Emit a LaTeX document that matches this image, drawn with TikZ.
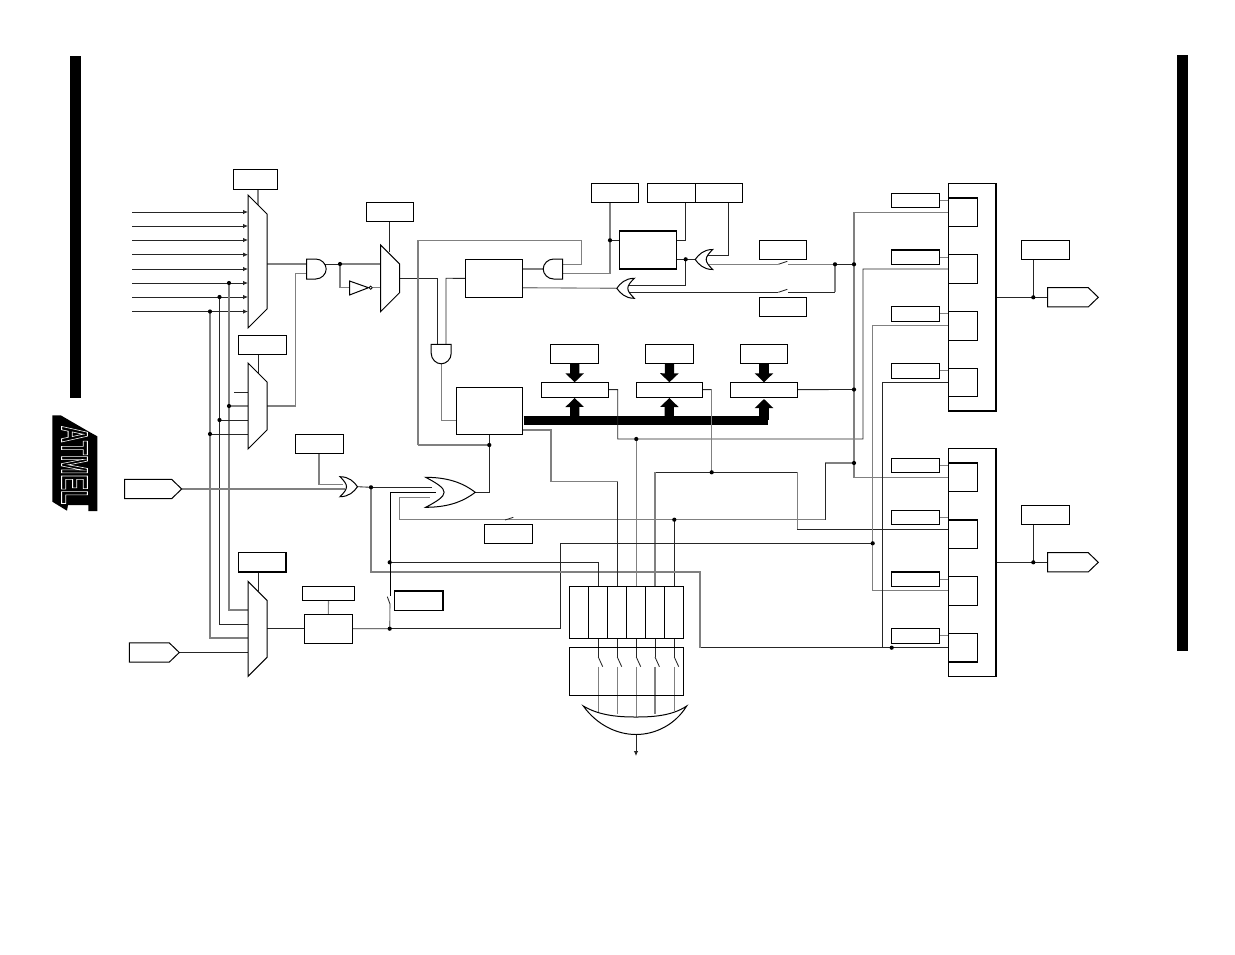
\documentclass[tikz,border=0pt]{standalone}
\usepackage{fontspec}
\usepackage{graphicx}
\usetikzlibrary{arrows.meta,backgrounds}
\newfontfamily\logofont{Liberation Sans}
\newcommand\bbox[6][]{\node[boxnode,#1,minimum width={(#5-#3)*1pt},minimum height={(#6-#4)*1pt}] (#2) at ({(#3+#5)/2},{(#4+#6)/2}) {};}
\tikzset{
  boxnode/.style={draw=black,fill=white,rectangle,inner sep=0pt,outer sep=0pt,line width=1pt},
  heavy/.style={line width=1.4pt},
  jdot/.style={circle,fill=black,draw=none,inner sep=0pt,minimum size=4.2pt},
  wire/.style={draw=black!85,line width=0.85pt},
  gwire/.style={draw=black!50,line width=1.1pt},
  gate/.style={draw=black,fill=white,line width=1pt,line join=miter},
  inarrow/.style={wire,-{Latex[length=5pt,width=4.5pt]}},
  fatdown/.style={draw=black,line width=9.3pt,-{Triangle[length=9pt,width=18pt]}},
  pics/mux/.style={code={
    \draw[gate] (0,-#1) -- (19,-#1+19) -- (19,#1-19) -- (0,#1) -- cycle;
    \coordinate (-out) at (19,0);}},
  pics/andg/.style={code={
    \draw[gate] (0,-10) -- (9,-10) .. controls (15,-10) and (19.5,-5) .. (19.5,0) .. controls (19.5,5) and (15,10) .. (9,10) -- (0,10) -- cycle;
    \coordinate (-out) at (19.5,0);}},
  pics/org/.style={code={
    \draw[gate] (0,-10) .. controls (9,-10) and (14,-5) .. (17.5,0) .. controls (14,5) and (9,10) .. (0,10) .. controls (4,6) and (6.5,3) .. (6.5,0) .. controls (6.5,-3) and (4,-6) .. (0,-10) -- cycle;
    \coordinate (-out) at (17.5,0);}},
  pics/pent/.style={code={
    \draw[gate] (0,-9.6) -- (#1-10,-9.6) -- (#1,0) -- (#1-10,9.6) -- (0,9.6) -- cycle;
    \coordinate (-tip) at (#1,0);}},
}
\begin{document}
\begin{tikzpicture}[x=1pt,y=-1pt]
\useasboundingbox (0,0) rectangle (1235,954);
% page bars
\fill[black] (70,56) rectangle (81,398);
\fill[black] (1177,55) rectangle (1188,651);
% logo
\fill[black] (52.3,415.3) -- (60.7,415.3) -- (89,431.7) -- (97.3,436.3) -- (97.3,511) -- (88.3,511) -- (88.3,505) -- (68,505) -- (67,510.7) -- (52.3,501.7) -- cycle;
\node[rotate=-90,inner sep=0pt,text=black,font=\logofont\bfseries\fontsize{37.5}{37.5}\selectfont] (logo) at (74.5,465) {\special{pdf:code q 2 Tr 0.9 w 1 1 1 RG 0 0 0 rg}\scalebox{0.62}[1]{ATMEL}\special{pdf:code Q}};

% boxes
\bbox{bA}{233}{169}{277}{189}
\bbox{bB}{366}{202}{413.7}{221.7}
\bbox{bC}{238}{335}{286}{354}
\bbox{bD}{295}{434.3}{343}{453.7}
\bbox[heavy]{bE}{238.3}{552.7}{286}{572}
\bbox{bF}{302.3}{586.3}{354.7}{600.7}
\bbox[heavy]{bG}{304.3}{614.3}{352.3}{643.3}
\bbox[line width=1.6pt]{bH}{394.3}{590.7}{442.7}{610.3}
\bbox{bI}{465}{259}{522.7}{297.7}
\bbox{bJ}{456}{387}{522.7}{434.7}
\bbox{bK}{591}{183.3}{638.7}{202.7}
\bbox{bL}{647.3}{183.3}{695}{202.7}
\bbox{bM}{695}{183.3}{742.7}{202.7}
\bbox[heavy]{bN}{619.3}{231}{676.7}{269}
\bbox{bO}{759.3}{240.3}{806.7}{259.7}
\bbox{bP}{759.3}{297.3}{806.7}{316.7}
\bbox{bQ}{484.3}{524.3}{532.7}{543.7}
\bbox{tA}{550.7}{344.3}{598.7}{363.7}
\bbox{tB}{645.3}{344.3}{693.7}{363.7}
\bbox{tC}{740.3}{344.3}{787.7}{363.7}
\bbox{rA}{541.3}{382.3}{608}{397}
\bbox{rB}{636}{382.3}{702.7}{397}
\bbox{rC}{730.7}{382.3}{797.3}{397}
\bbox{sA}{569.7}{586}{588.7}{638.3}
\bbox{sB}{588.7}{586}{607.7}{638.3}
\bbox{sC}{607.7}{586}{626.7}{638.3}
\bbox{sD}{626.7}{586}{645.7}{638.3}
\bbox{sE}{645.7}{586}{664.7}{638.3}
\bbox{sF}{664.7}{586}{683.7}{638.3}
\bbox[heavy,fill=none]{sG}{569.7}{647.7}{683.7}{695.3}
% right blocks
\bbox[heavy]{blkA}{948.7}{183.7}{996}{411}
\bbox[heavy]{blkB}{948.7}{448.7}{996}{676.3}
\bbox[heavy]{iA}{948.7}{198}{977.3}{226.7}
\bbox[heavy]{iB}{948.7}{254.7}{977.3}{283.7}
\bbox[heavy]{iC}{948.7}{311.3}{977.3}{340.3}
\bbox[heavy]{iD}{948.7}{368.3}{977.3}{396.7}
\bbox[heavy]{iE}{948.7}{463}{977.3}{491.7}
\bbox[heavy]{iF}{948.7}{520}{977.3}{548.3}
\bbox[heavy]{iG}{948.7}{576.7}{977.3}{605.3}
\bbox[heavy]{iH}{948.7}{633.3}{977.3}{662}
\bbox{lA}{891.3}{193.3}{939.3}{207.7}
\bbox[heavy]{lB}{891.3}{250}{939.3}{264.7}
\bbox[heavy]{lC}{891.3}{306.3}{939.3}{321.3}
\bbox[heavy]{lD}{891.3}{363.3}{939.3}{378.3}
\bbox{lE}{891.3}{458.3}{939.3}{472.7}
\bbox{lF}{891.3}{510.3}{939.3}{524.7}
\bbox[heavy]{lG}{891.3}{572}{939.3}{586.7}
\bbox[heavy]{lH}{891.3}{628.3}{939.3}{643.3}
\bbox{bR}{1021.7}{240.3}{1069.7}{259.7}
\bbox{bS}{1021.7}{505.3}{1069.7}{524.7}

% junctions
\foreach \n/\x/\y in {dA/229/283,dB/219.5/297,dC/210/311.5,dD/229/406,dE/219.5/420,dF/210/434,dG/340/264,dH/371/487.3,dI/389.7/562.3,dJ/389.7/628.7,dK/489.3/445,dL/610/240.3,dM/685.7/259.3,dN/835/264.3,dO/854/264.3,dP/854/389.5,dQ/854/463,dR/636.3/439,dS/711.7/472.3,dT/674.3/519.7,dU/872.7/543.3,dV/891.7/647.7,dW/1033.3/297.3,dX/1033.3/562.3}
  {\node[jdot] (\n) at (\x,\y) {};}

% gates
\pic (muxA) at (248,261.5) {mux=66.5};
\pic (muxB) at (248,406) {mux=43};
\pic (muxC) at (248,628.8) {mux=47.5};
\pic (muxD) at (380.6,278.3) {mux=33.3};
\pic (andA) at (306.7,269) {andg};
\pic[rotate=-90] (andB) at (441.2,344.3) {andg};
\pic[rotate=180] (andC) at (562.7,269) {andg};
\pic (orA) at (340,486.7) {org};
\pic[xscale=2.834,yscale=1.5] (orB) at (425.7,492.3) {org};
\pic[rotate=180] (orC) at (712.7,259.5) {org};
\pic[rotate=180] (orD) at (634.3,288.3) {org};
\draw[gate] (349.5,281) -- (368.5,287.7) -- (349.5,295) -- cycle;
\coordinate (invIn) at (349.5,287.7);
\node[circle,draw=black,fill=white,line width=0.8pt,inner sep=0pt,minimum size=3.2pt] (invOut) at (370.7,287.7) {};
\pic (pA) at (124.7,489) {pent=57};
\pic (pB) at (129.3,652.5) {pent=50};
\pic (pC) at (1047.7,297.3) {pent=50.6};
\pic (pD) at (1047.7,562.3) {pent=50.6};
% wide output OR gate
\draw[gate] (583.3,706) .. controls (600,716) and (620,717) .. (636,717) .. controls (652,717) and (672,716) .. (686.7,706) .. controls (675,725) and (655,734.5) .. (636,734.5) .. controls (617,734.5) and (597,725) .. (583.3,706) -- cycle;
\coordinate (bigOut) at (636,734.5);
\coordinate (bigTip) at (636,756);

\begin{scope}[on background layer]
% mux inputs
\foreach \y in {212,226,240,254.7,269,283,297,311.5}
  \draw[inarrow] (132,\y) -- (248,\y);
\draw[wire] (234,392) -- (248,392);
% select stubs
\draw[gwire] ([xshift=3pt]bA.south) -- ++(0,18);
\draw[wire] ([xshift=-4pt]bC.south) -- ++(0,19);
\draw[wire] ([xshift=-4pt]bE.south) -- ++(0,19);
\draw[wire] (bB.south) -- ++(0,30);
\draw[gwire] (bF.south) -- (bG.north);
% shared verticals
\draw[gwire] (dA.center) -- (229,610) -- (248,610);
\draw[wire] (dB.center) -- (219.5,624) -- (248,624);
\draw[gwire] (dC.center) -- (210,638) -- (248,638);
\draw[gwire] (dD.center) -- (248,406);
\draw[wire] (dE.center) -- (248,420);
\draw[wire] (dF.center) -- (248,434);
% gate chain
\draw[gwire] (267,264) -- (306.7,264);
\draw[gwire] (muxB-out) -- (295.5,406) -- (295.5,273.5) -- (306.7,273.5);
\draw[wire] (325,264) -- (dG.center);
\draw[gwire] (dG.center) -- (380.6,264);
\draw[gwire] (dG.center) -- (340,287.7) -- (invIn);
\draw[gwire] (invOut) -- (380.6,287.7);
\draw[wire] (muxD-out) -- (437.5,278.3) -- (437.5,344.3);
\draw[wire] (bI.west) -- (446,278.3) -- (446,344.3);
\draw[gwire] (andB-out) -- (441.2,420.3) -- (456,420.3);
\draw[gwire] (418,445) -- (418,240.3) -- (581.6,240.3) -- (581.6,264.3) -- (562.7,264.3);
\draw[gwire] (418,445) -- (dK.center);
\draw[wire] (bJ.south -| dK) -- (dK.center) -- (489.3,492.3) -- (orB-out);
\draw[gwire] (andC-out) -- (522.7,269);
\draw[gwire] (522.7,287.7) -- (orD-out);
\draw[gwire] (562.7,273.7) -- (610,273.7) -- (dL.center);
\draw[gwire] (dL.center) -- (610,202.7);
\draw[wire] (dL.center) -- (619.3,240.3);
\draw[wire] (685.3,202.7) -- (685.3,240.3) -- (676.7,240.3);
\draw[wire] (728.3,202.7) -- (728.3,255.7) -- (706,255.7);
\draw[wire] (orC-out) -- (676.7,259.5);
\draw[wire] (dM.center) -- (685.7,285.7) -- (628,285.7);
\draw[gwire] (706,264.3) -- (778.3,264.3);
\draw[wire] (778.3,264.3) -- (787.3,261.3);
\draw[gwire] (788.3,264.3) -- (dN.center);
\draw[wire] (628,292.3) -- (778.3,292.3);
\draw[wire] (778.3,292.3) -- (787.3,289.3);
\draw[wire] (788.3,292.3) -- (835,292.3);
\draw[gwire] (835,292.3) -- (dN.center);
\draw[wire] (dN.center) -- (dO.center);
% fat bus
\draw[fatdown] (tA.south) -- (rA.north);
\draw[fatdown] (tB.south) -- (rB.north);
\draw[fatdown] (tC.south) -- (rC.north);
\coordinate (busL) at (523.7,420.5);
\coordinate (busR) at (768.4,420.5);
\draw[black,line width=9pt] (busL) -- (busR);
\draw[fatdown,shorten >=1pt] (574.7,420) -- (rA.south);
\draw[fatdown,shorten >=1pt] (669.3,420) -- (rB.south);
\draw[fatdown,shorten >=2pt] (764,420) -- (rC.south);
% register outputs
\draw[wire] (rA.east) -- (617.7,389.6) -- (617.7,439) -- (863,439) -- (863,269) -- (blkA.west |- 0,269);
\draw[gwire] (dR.center) -- (636.3,586);
\draw[wire] (rB.east) -- (711.7,389.6);
\draw[gwire] (711.7,389.6) -- (dS.center);
\draw[wire] (655,472.3) -- (797.3,472.3);
\draw[gwire] (655,472.3) -- (655,586);
\draw[gwire] (797.3,472.3) -- (797.3,529.3);
\draw[wire] (797.3,529.3) -- (blkB.west |- 0,529.3);
\draw[wire] (rC.east) -- (dP.center);
\draw[gwire] (blkA.west |- 0,212.3) -- (854,212.3) -- (854,477.3) -- (blkB.west |- 0,477.3);
\draw[gwire] (dQ.center) -- (825.3,463);
\draw[wire] (825.3,463) -- (825.3,519.7);
\draw[gwire] (825.3,519.7) -- (399.3,519.7) -- (399.3,497.3) -- (430,497.3);
\draw[wire] (505,520) -- (513.3,517.3);
\draw[wire] (dT.center) -- (674.3,586);
\draw[gwire] (blkA.west |- 0,325.3) -- (872.7,325.3) -- (872.7,590.7) -- (blkB.west |- 0,590.7);
\draw[wire] (blkA.west |- 0,382.3) -- (882.3,382.3) -- (882.3,647.7);
\draw[wire] (dU.center) -- (560.7,543.3);
\draw[wire] (560.7,543.3) -- (560.7,628.7) -- (dJ.center);
\draw[wire] (bG.east) -- (dJ.center);
\draw[wire] (700,647.7) -- (blkB.west |- 0,647.7);
\draw[gwire] (700,647.7) -- (700,572) -- (371,572) -- (dH.center);
\draw[wire] (dH.center) -- (orA-out);
\draw[wire] (dH.center) -- (432,487.3);
\draw[black,line width=0.9pt] (390,595.7) -- (390,492.7) -- (436,492.7);
\draw[wire] (dI.center) -- (598.3,562.3) -- (598.3,586);
\draw[wire] (387.3,596.7) -- (390,604);
\draw[gwire] (390,604) -- (dJ.center);
% left side input chain
\draw[gwire] (pA-tip) -- (345,489);
\draw[gwire] (bD.south -| 319,0) -- (319,484.3) -- (343,484.3);
\draw[wire] (pB-tip) -- (248,652.5);
\draw[wire] (muxC-out) -- (bG.west);
% lower left to bank
\draw[gwire] (bJ.east |- 0,430) -- (551,430) -- (551,481.7) -- (617.7,481.7);
\draw[wire] (617.7,481.7) -- (617.7,586);
% bank to output gate
\foreach \x/\e in {598.3/712,617.3/714,636.3/717,655/714,674.3/711}{
  \draw[wire] (\x,638.3) -- (\x,657);
  \draw[wire] (\x,657) -- (\x+4.4,666.7);
  \draw[gwire] (\x,666.7) -- (\x,\e);
}
\draw[inarrow] (bigOut) -- (bigTip);
% right block stubs
\foreach \l/\i in {lA/iA,lB/iB,lC/iC,lD/iD,lE/iE,lF/iF,lG/iG,lH/iH}
  \draw[gwire] (\l.east) -- (\i.west |- \l.east);
\draw[wire] (blkA.east |- 0,297.3) -- (1047.7,297.3);
\draw[wire] (blkB.east |- 0,562.3) -- (1047.7,562.3);
\draw[wire] (bR.south -| dW) -- (dW.center);
\draw[wire] (bS.south -| dX) -- (dX.center);
\end{scope}
\end{tikzpicture}
\end{document}
